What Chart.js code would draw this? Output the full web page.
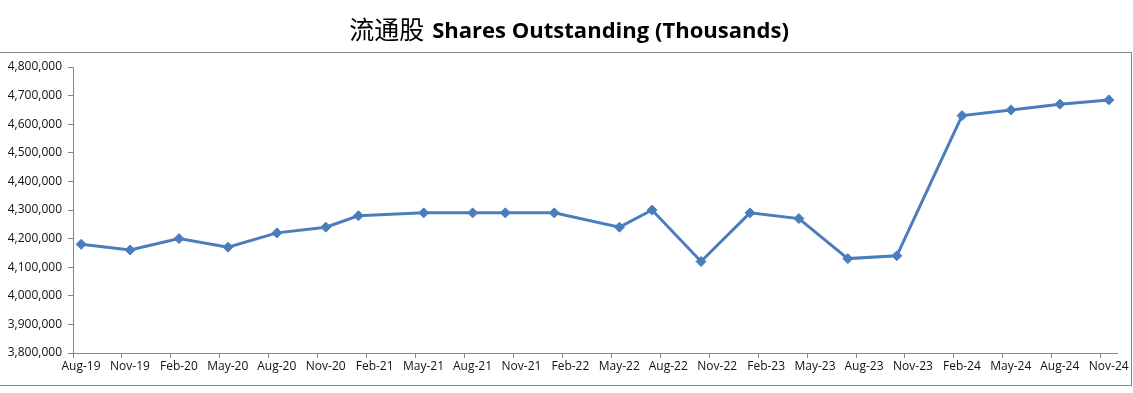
<!DOCTYPE html>
<html><head><meta charset="utf-8">
<script src="https://cdn.jsdelivr.net/npm/chart.js@4"></script>
<style>html,body{margin:0;padding:0;background:#fff;overflow:hidden}#wrap{width:1133px;height:393px;position:relative}canvas{display:block}</style>
</head><body><div id="wrap"><canvas id="c" width="1133" height="393"></canvas></div>
<script>
// ---- data ----
const titleCn = '流通股';
const titleEn = 'Shares Outstanding (Thousands)';
const axisStart = '2019-08';
const pointDates = ['2019-08','2019-11','2020-02','2020-05','2020-08','2020-11','2021-01','2021-05','2021-08','2021-10','2022-01','2022-05','2022-07','2022-10','2023-01','2023-04','2023-07','2023-10','2024-02','2024-05','2024-08','2024-11'];
const shares = [4180000,4160000,4200000,4170000,4220000,4240000,4280000,4290000,4290000,4290000,4290000,4240000,4300000,4120000,4290000,4270000,4130000,4140000,4630000,4650000,4670000,4685000];
const tickLabels = ['Aug-19','Nov-19','Feb-20','May-20','Aug-20','Nov-20','Feb-21','May-21','Aug-21','Nov-21','Feb-22','May-22','Aug-22','Nov-22','Feb-23','May-23','Aug-23','Nov-23','Feb-24','May-24','Aug-24','Nov-24'];
const yMin = 3800000, yMax = 4800000, yStep = 100000;

function monthIndex(s){const [y,m]=s.split('-').map(Number);const [y0,m0]=axisStart.split('-').map(Number);return (y-y0)*12+(m-m0);}
const pts = pointDates.map((d,i)=>({x: monthIndex(d)+0.5, y: shares[i]}));
const axisMonths = tickLabels.length*3 - 2; // Aug-19 .. Nov-24 inclusive = 64 months

const GRAY = '#868686';
const LBL = {family:"'Open Sans', sans-serif", size:12};

const framePlugin = {
  id:'frame',
  beforeDraw(chart){
    const c = chart.ctx;
    c.save();
    c.strokeStyle = GRAY; c.lineWidth = 1;
    c.strokeRect(-1.5, 52.5, 1133, 333);
    c.restore();
  }
};
const titlePlugin = {
  id:'mixedTitle',
  afterDraw(chart){
    const c = chart.ctx;
    c.save();
    c.textBaseline = 'alphabetic';
    c.fillStyle = '#000';
    c.font = "25px 'Noto Sans CJK SC'";
    const wCn = c.measureText(titleCn).width;
    let fs = 22;
    c.font = "bold "+fs+"px 'Open Sans'";
    const w0 = c.measureText(titleEn).width;
    fs = fs*357/w0;
    c.font = "bold "+fs+"px 'Open Sans'";
    const wEn = c.measureText(titleEn).width;
    const gap = 8;
    const total = wCn + gap + wEn;
    const x0 = 569 - total/2;
    c.font = "25px 'Noto Sans CJK SC'";
    c.fillText(titleCn, x0, 39);
    c.font = "bold "+fs+"px 'Open Sans'";
    c.fillText(titleEn, x0 + wCn + gap, 38);
    c.restore();
  }
};

new Chart(document.getElementById('c'), {
  type:'line',
  data:{datasets:[{
    data: pts,
    borderColor:'#4a7ebb', backgroundColor:'#4a7ebb',
    borderWidth:3, tension:0,
    pointStyle:'rectRot', pointRadius:5, pointBorderWidth:1,
    pointBackgroundColor:'#4a7ebb', pointBorderColor:'#4a7ebb'
  }]},
  options:{
    responsive:false, animation:false, events:[],
    layout:{padding:{left:0,right:16,top:67,bottom:0}},
    plugins:{legend:{display:false},tooltip:{enabled:false},title:{display:false}},
    scales:{
      x:{
        type:'linear', min:0, max:axisMonths,
        afterBuildTicks(s){ s.ticks = tickLabels.map((_,i)=>({value:i*3})); },
        afterFit(s){ s.height = 40; },
        ticks:{ callback:(v,i)=>tickLabels[i], font:LBL, color:'#111', labelOffset:8, maxRotation:0, minRotation:0, autoSkip:false, padding:1 },
        grid:{ drawOnChartArea:false, tickLength:5, color:GRAY },
        border:{ color:GRAY, width:1 }
      },
      y:{
        min:yMin, max:yMax,
        afterFit(s){ s.width = 73; },
        ticks:{ stepSize:yStep, callback:v=>v.toLocaleString('en-US'), font:LBL, color:'#111', padding:6 },
        grid:{ drawOnChartArea:false, tickLength:5, color:GRAY },
        border:{ color:GRAY, width:1 }
      }
    }
  },
  plugins:[framePlugin, titlePlugin]
});
</script>
</body></html>
